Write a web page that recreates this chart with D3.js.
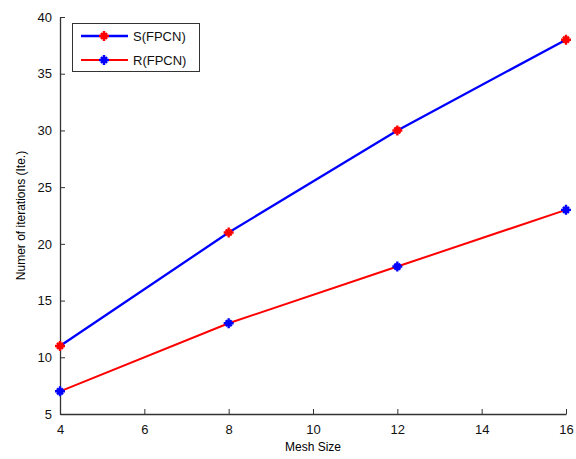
<!DOCTYPE html>
<html><head><meta charset="utf-8">
<script src="https://cdn.jsdelivr.net/npm/d3@7"></script>
<style>body{margin:0;background:#fff}svg{display:block}text{font-family:"Liberation Sans",Arial,sans-serif}</style>
</head><body>
<script>
const meshSizes = [4, 8, 12, 16];
const sValues = [11, 21, 30, 38];
const rValues = [7, 13, 18, 23];
const xTicks = [4, 6, 8, 10, 12, 14, 16];
const yTicks = [5, 10, 15, 20, 25, 30, 35, 40];
const seriesNames = ["S(FPCN)", "R(FPCN)"];

const W = 576, H = 459;
const m = {left: 60, right: 10, top: 17, bottom: 45};
const svg = d3.select("body").append("svg").attr("width", W).attr("height", H);
const x = d3.scaleLinear().domain([4, 16]).range([m.left, 566]);
const y = d3.scaleLinear().domain([5, 40]).range([414, m.top]);
const axisColor = "#333";

const gx = svg.append("g").attr("transform", `translate(0,414)`)
  .call(d3.axisBottom(x).tickValues(xTicks).tickSizeInner(-5).tickSizeOuter(0).tickPadding(11));
const gy = svg.append("g").attr("transform", `translate(${m.left},0)`)
  .call(d3.axisLeft(y).tickValues(yTicks).tickSizeInner(-5).tickSizeOuter(0).tickPadding(8));
[gx, gy].forEach(g => {
  g.select(".domain").attr("stroke", axisColor).attr("stroke-width", 1.3);
  g.selectAll(".tick line").attr("stroke", axisColor);
  g.selectAll("text").attr("font-size", 13).attr("fill", "#111").attr("font-family", '"Liberation Sans",Arial,sans-serif');
});

svg.append("text").attr("x", (m.left + 566) / 2).attr("y", 451).attr("text-anchor", "middle")
  .attr("font-size", 12).text("Mesh Size");
svg.append("text").attr("transform", `translate(25,${(414 + 17) / 2}) rotate(-90)`).attr("text-anchor", "middle")
  .attr("font-size", 12).text("Numer of iterations (Ite.)");

const series = [
  {name: seriesNames[0], vals: sValues, line: "#0000ff", mark: "#ff0000", w: 2.3},
  {name: seriesNames[1], vals: rValues, line: "#ff0000", mark: "#0000ff", w: 2}
];
const lineGen = d3.line().x((d, i) => x(meshSizes[i])).y(d => y(d));

function marker(g, cx, cy, color) {
  const s = 5, d = 3;
  g.append("path")
    .attr("d", `M${cx - s},${cy}L${cx + s},${cy}M${cx},${cy - s}L${cx},${cy + s}M${cx - d},${cy - d}L${cx + d},${cy + d}M${cx - d},${cy + d}L${cx + d},${cy - d}`)
    .attr("stroke", color).attr("stroke-width", 2.4).attr("fill", "none");
}

series.forEach(s => {
  svg.append("path").datum(s.vals).attr("d", lineGen).attr("fill", "none")
    .attr("stroke", s.line).attr("stroke-width", s.w);
  const g = svg.append("g");
  s.vals.forEach((v, i) => marker(g, x(meshSizes[i]), y(v), s.mark));
});

// legend
const lg = svg.append("g");
lg.append("rect").attr("x", 72.5).attr("y", 23.5).attr("width", 127).attr("height", 48)
  .attr("fill", "#fff").attr("stroke", "#333").attr("stroke-width", 1);
series.forEach((s, i) => {
  const yy = 36 + i * 24;
  lg.append("line").attr("x1", 81).attr("x2", 128).attr("y1", yy).attr("y2", yy)
    .attr("stroke", s.line).attr("stroke-width", s.w);
  marker(lg, 104, yy, s.mark);
  lg.append("text").attr("x", 133).attr("y", yy + 5).attr("font-size", 13).attr("fill", "#111").text(s.name);
});
</script>
</body></html>
